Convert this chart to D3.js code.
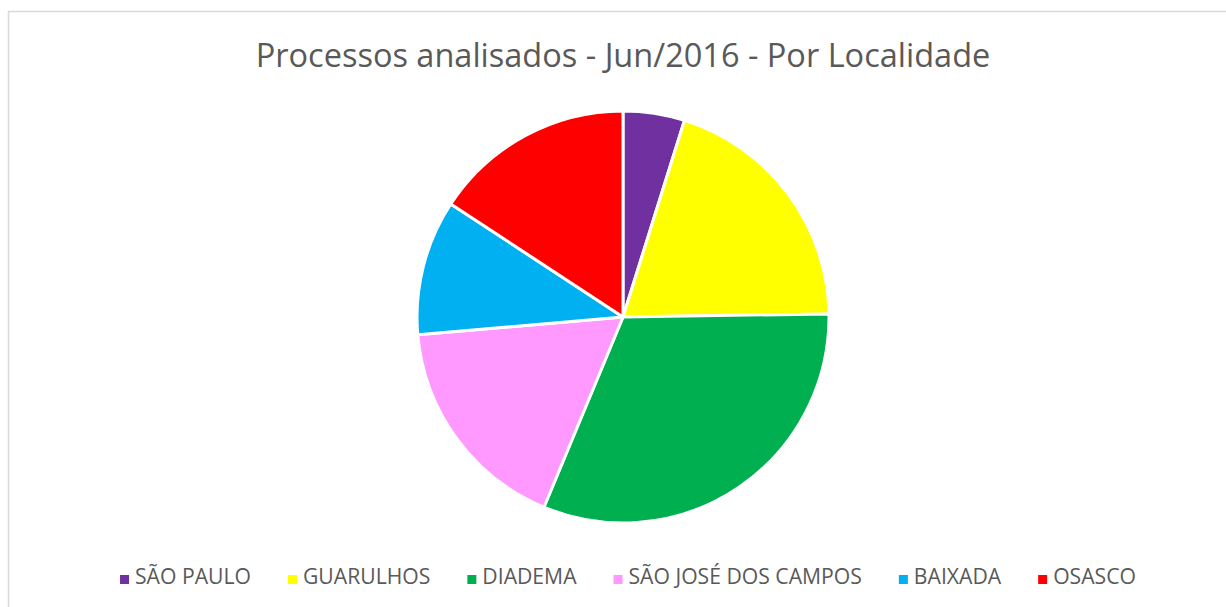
<!DOCTYPE html>
<html>
<head>
<meta charset="utf-8">
<script src="https://cdn.jsdelivr.net/npm/d3@7"></script>
<style>
  body { margin: 0; background: #fff; }
  text { font-family: "Open Sans", "Noto Sans", sans-serif; fill: #595959; }
</style>
</head>
<body>
<div id="chart"></div>
<script>
// data
var categories = ["SÃO PAULO", "GUARULHOS", "DIADEMA", "SÃO JOSÉ DOS CAMPOS", "BAIXADA", "OSASCO"];
var values = [15, 62, 98, 54, 33, 49];
var colors = ["#7030a0", "#ffff00", "#00b050", "#ff99ff", "#00b0f0", "#ff0000"];
var title = "Processos analisados - Jun/2016 - Por Localidade";

var width = 1226, height = 607;
var cx = 623, cy = 317, radius = 206;

var svg = d3.select("#chart")
  .append("svg")
    .attr("width", width)
    .attr("height", height);

// chart area border (only left and top visible in the crop)
svg.append("path")
  .attr("d", "M8.5," + height + " L8.5,11.5 L" + width + ",11.5")
  .attr("fill", "none")
  .attr("stroke", "#d9d9d9")
  .attr("stroke-width", 1.5);

// title, fitted to the width it takes in the reference
var t = svg.append("text")
  .attr("x", cx)
  .attr("y", 67)
  .attr("text-anchor", "middle")
  .style("font-size", "30px")
  .text(title);
var tw = t.node().getComputedTextLength();
t.style("font-size", (30 * 735 / tw) + "px");

var data = categories.map(function(c, i) { return {name: c, value: values[i], color: colors[i]}; });

var pie = d3.pie()
  .sort(null)
  .value(function(d) { return d.value; });

var arc = d3.arc()
  .innerRadius(0)
  .outerRadius(radius);

var g = svg.append("g")
  .attr("transform", "translate(" + cx + "," + cy + ")");

g.selectAll("path")
  .data(pie(data))
  .enter()
  .append("path")
    .attr("d", arc)
    .attr("fill", function(d) { return d.data.color; })
    .attr("stroke", "#fff")
    .attr("stroke-width", 3)
    .attr("stroke-linejoin", "round");

// legend: measure items, then center the row
var legend = svg.append("g");
var items = legend.selectAll("g")
  .data(data)
  .enter()
  .append("g");

items.append("rect")
  .attr("width", 9)
  .attr("height", 9)
  .attr("y", -9)
  .attr("fill", function(d) { return d.color; });

items.append("text")
  .attr("x", 15)
  .attr("y", 0)
  .style("font-size", "17px")
  .text(function(d) { return d.name; });

// size legend text so "SÃO PAULO" spans about as wide as in the reference
var first = items.select("text").nodes()[0].getComputedTextLength();
var fs = 17 * 116 / first;
items.select("text").style("font-size", fs + "px");

var gap = 37, xpos = 0, offs = [];
items.each(function() {
  offs.push(xpos);
  xpos += 15 + d3.select(this).select("text").node().getComputedTextLength() + gap;
});
var total = xpos - gap;
var start = cx - total / 2 + 5;
items.attr("transform", function(d, i) { return "translate(" + (start + offs[i]) + ",584)"; });
</script>
</body>
</html>
